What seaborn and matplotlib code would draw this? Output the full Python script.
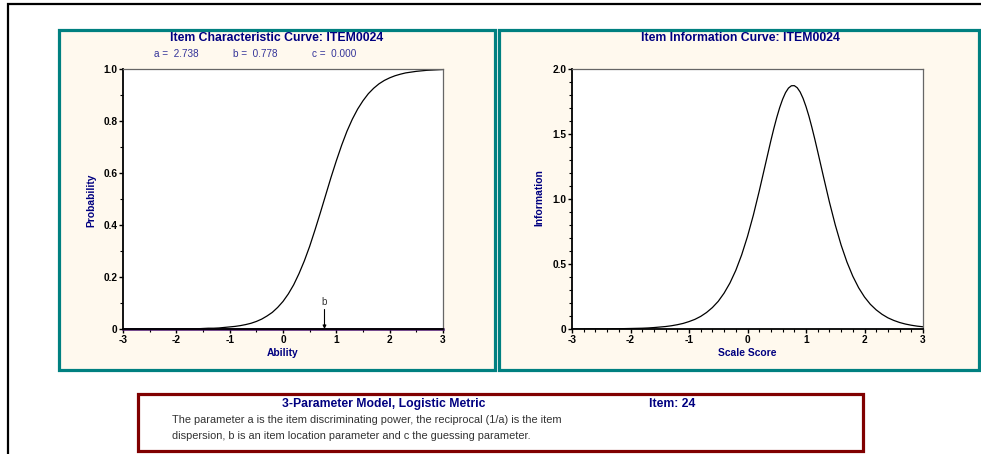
import matplotlib
matplotlib.use('Agg')
import matplotlib.pyplot as plt
import seaborn as sns
import pandas as pd
from matplotlib.patches import Rectangle
from matplotlib.ticker import MultipleLocator

# ---------------- data ----------------
theta = [round(-3 + 0.1 * i, 1) for i in range(61)]
prob = [0.000, 0.000, 0.000, 0.000, 0.000, 0.000, 0.000, 0.000, 0.000, 0.000,
        0.000, 0.001, 0.001, 0.001, 0.001, 0.002, 0.003, 0.003, 0.004, 0.006,
        0.008, 0.010, 0.013, 0.017, 0.022, 0.029, 0.038, 0.050, 0.064, 0.083,
        0.106, 0.135, 0.170, 0.213, 0.262, 0.318, 0.381, 0.447, 0.515, 0.583,
        0.647, 0.707, 0.761, 0.807, 0.846, 0.878, 0.905, 0.926, 0.943, 0.956,
        0.966, 0.974, 0.980, 0.985, 0.988, 0.991, 0.993, 0.995, 0.996, 0.997,
        0.998]
theta_info = [-3.0, -2.9, -2.8, -2.7, -2.6, -2.5, -2.4, -2.3, -2.2, -2.1,
              -2.0, -1.9, -1.8, -1.7, -1.6, -1.5, -1.4, -1.3, -1.2, -1.1,
              -1.0, -0.9, -0.8, -0.7, -0.6, -0.5, -0.4, -0.3, -0.2, -0.1,
              0.0, 0.1, 0.2, 0.3, 0.4, 0.45, 0.5, 0.55, 0.6, 0.65, 0.7, 0.75,
              0.8, 0.85, 0.9, 0.95, 1.0, 1.05, 1.1, 1.15, 1.2, 1.3, 1.4, 1.5,
              1.6, 1.7, 1.8, 1.9, 2.0, 2.1, 2.2, 2.3, 2.4, 2.5, 2.6, 2.7, 2.8,
              2.9, 3.0]
info = [0.000, 0.000, 0.000, 0.001, 0.001, 0.001, 0.001, 0.002, 0.002, 0.003,
        0.004, 0.005, 0.006, 0.008, 0.011, 0.015, 0.019, 0.025, 0.033, 0.043,
        0.057, 0.074, 0.097, 0.127, 0.165, 0.213, 0.276, 0.354, 0.451, 0.570,
        0.712, 0.876, 1.060, 1.255, 1.450, 1.542, 1.627, 1.703, 1.767, 1.818,
        1.853, 1.871, 1.872, 1.856, 1.823, 1.774, 1.711, 1.637, 1.552, 1.461,
        1.365, 1.169, 0.977, 0.801, 0.646, 0.515, 0.406, 0.317, 0.246, 0.190,
        0.147, 0.113, 0.086, 0.066, 0.050, 0.038, 0.029, 0.022, 0.017]
a_param, b_param, c_param = 2.738, 0.778, 0.000
item_name = "ITEM0024"
item_no = 24
x_ticks = [-3, -2, -1, 0, 1, 2, 3]
icc_yticks = [0, 0.2, 0.4, 0.6, 0.8, 1.0]
icc_ylabels = ["0", "0.2", "0.4", "0.6", "0.8", "1.0"]
iic_yticks = [0, 0.5, 1.0, 1.5, 2.0]
iic_ylabels = ["0", "0.5", "1.0", "1.5", "2.0"]

df_icc = pd.DataFrame({"theta": theta, "prob": prob})
df_iic = pd.DataFrame({"theta": theta_info, "info": info})
df_c = pd.DataFrame({"theta": [-3, 3], "c": [c_param, c_param]})

plt.rcParams['font.family'] = ['Liberation Sans', 'DejaVu Sans']

W, H = 981, 454
fig = plt.figure(figsize=(W / 100, H / 100), dpi=100)
fig.patch.set_facecolor('white')

NAVY = '#000080'
TEAL = '#008080'
CREAM = '#FFF9EE'
TICK_FS = 7.3
LABEL_FS = 7.4
TITLE_FS = 8.8


def fx(px):
    return px / W


def fy(py):
    return 1 - py / H


def rect(x0, y0, x1, y1, ec, fc, lw, z=-2):
    r = Rectangle((fx(x0), fy(y1)), fx(x1) - fx(x0), fy(y0) - fy(y1),
                  transform=fig.transFigure, facecolor=fc, edgecolor=ec,
                  linewidth=lw, zorder=z)
    fig.add_artist(r)


# outer frame
rect(8, 4, 1100, 600, 'black', 'none', 1.6)
# panels
rect(58.5, 29.5, 494.5, 369.5, TEAL, CREAM, 2.3)
rect(499.5, 29.5, 978.5, 369.5, TEAL, CREAM, 2.3)
# bottom box
rect(137.5, 393.5, 862.5, 450.5, '#800000', 'white', 2.3)


def style_axes(ax, ylim, yticks, ylabels, yminor, xminor):
    ax.set_facecolor('white')
    ax.set_xlim(-3, 3)
    ax.set_ylim(*ylim)
    ax.set_xticks(x_ticks, labels=[str(t) for t in x_ticks],
                  fontsize=TICK_FS, fontweight='bold')
    ax.set_yticks(yticks, labels=ylabels, fontsize=TICK_FS, fontweight='bold')
    ax.xaxis.set_minor_locator(MultipleLocator(xminor))
    ax.yaxis.set_minor_locator(MultipleLocator(yminor))
    ax.tick_params(which='major', direction='out', length=3, width=1,
                   pad=1, colors='black')
    ax.tick_params(which='minor', direction='out', length=2, width=0.8)
    ax.set_xlabel('')
    ax.set_ylabel('')
    for s in ['left', 'bottom']:
        ax.spines[s].set_color('black')
        ax.spines[s].set_linewidth(1.3)
    for s in ['top', 'right']:
        ax.spines[s].set_color('#666666')
        ax.spines[s].set_linewidth(0.9)


# ---------------- ICC ----------------
ax1 = fig.add_axes([fx(123), fy(329), fx(443) - fx(123), fy(69) - fy(329)])
sns.lineplot(data=df_icc, x='theta', y='prob', ax=ax1, color='black',
             linewidth=0.9, legend=False)
sns.lineplot(data=df_c, x='theta', y='c', ax=ax1, color='#4B1470',
             linewidth=1.8, legend=False, clip_on=False)
style_axes(ax1, (0, 1), icc_yticks, icc_ylabels, 0.1, 0.5)
ax1.annotate('', xy=(b_param, 0.0), xytext=(b_param, 0.075),
             arrowprops=dict(arrowstyle='-|>', color='black', lw=0.8,
                             mutation_scale=5, shrinkA=0, shrinkB=0))
ax1.text(b_param, 0.085, 'b', ha='center', va='bottom', fontsize=7,
         color='#333333')

fig.text(fx(277), fy(38), f"Item Characteristic Curve: {item_name}",
         ha='center', va='center', fontsize=TITLE_FS, fontweight='bold',
         color=NAVY)
fig.text(fx(176), fy(54), f"a =  {a_param:.3f}", ha='center', va='center',
         fontsize=7.2, color='#333399')
fig.text(fx(255.5), fy(54), f"b =  {b_param:.3f}", ha='center', va='center',
         fontsize=7.2, color='#333399')
fig.text(fx(334), fy(54), f"c =  {c_param:.3f}", ha='center', va='center',
         fontsize=7.2, color='#333399')
fig.text(fx(91), fy(200), "Probability", rotation=90, ha='center',
         va='center', fontsize=LABEL_FS, fontweight='bold', color=NAVY)
fig.text(fx(283), fy(353), "Ability", ha='center', va='center',
         fontsize=LABEL_FS, fontweight='bold', color=NAVY)

# ---------------- IIC ----------------
ax2 = fig.add_axes([fx(572), fy(329), fx(923) - fx(572), fy(69) - fy(329)])
sns.lineplot(data=df_iic, x='theta', y='info', ax=ax2, color='black',
             linewidth=0.9, legend=False)
style_axes(ax2, (0, 2), iic_yticks, iic_ylabels, 0.1, 0.2)

fig.text(fx(740), fy(38), f"Item Information Curve: {item_name}",
         ha='center', va='center', fontsize=TITLE_FS, fontweight='bold',
         color=NAVY)
fig.text(fx(539), fy(198), "Information", rotation=90, ha='center',
         va='center', fontsize=LABEL_FS, fontweight='bold', color=NAVY)
fig.text(fx(747), fy(353), "Scale Score", ha='center', va='center',
         fontsize=LABEL_FS, fontweight='bold', color=NAVY)

# ---------------- bottom box ----------------
fig.text(fx(384), fy(404), "3-Parameter Model, Logistic Metric",
         ha='center', va='center', fontsize=TITLE_FS, fontweight='bold',
         color=NAVY)
fig.text(fx(672), fy(404), f"Item: {item_no}", ha='center', va='center',
         fontsize=TITLE_FS, fontweight='bold', color=NAVY)
fig.text(fx(172), fy(420),
         "The parameter a is the item discriminating power, the reciprocal (1/a) is the item",
         ha='left', va='center', fontsize=7.9, color='#333333')
fig.text(fx(172), fy(436),
         "dispersion, b is an item location parameter and c the guessing parameter.",
         ha='left', va='center', fontsize=7.9, color='#333333')

fig.savefig('out.png', dpi=100)
